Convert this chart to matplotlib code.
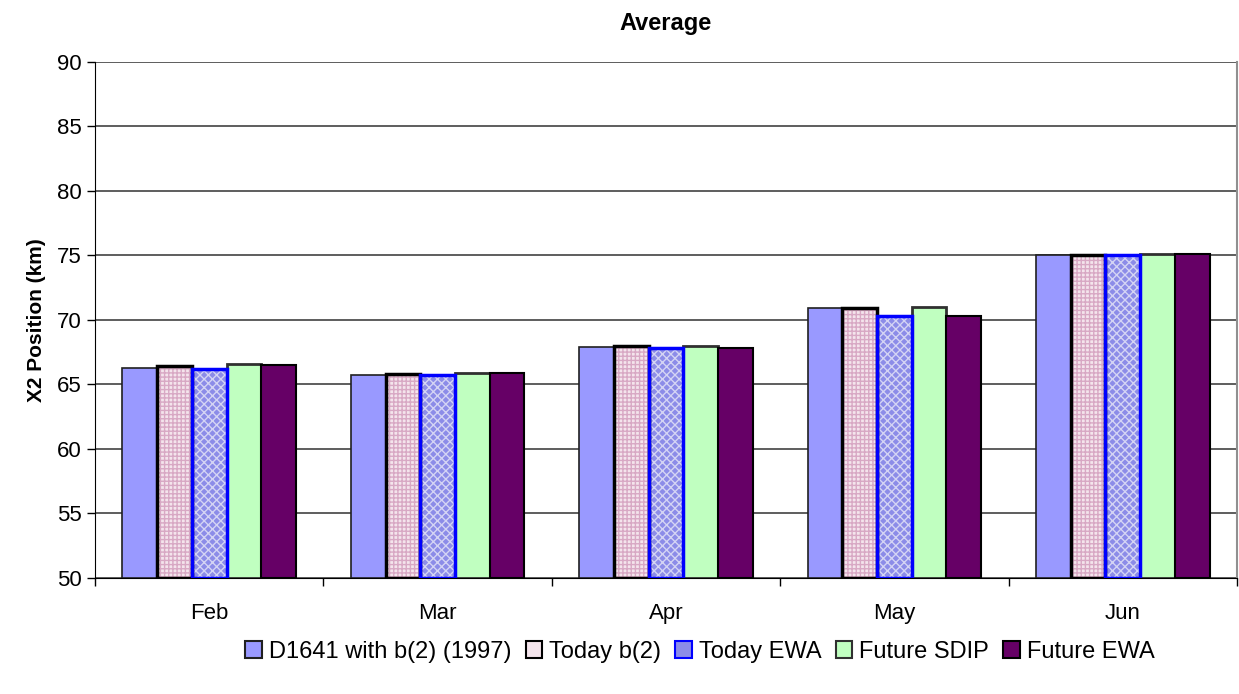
import numpy as np
import matplotlib
matplotlib.use('Agg')
import matplotlib.pyplot as plt
from matplotlib.patches import Patch

plt.rcParams['font.family'] = ['Liberation Sans', 'DejaVu Sans']

months = ['Feb', 'Mar', 'Apr', 'May', 'Jun']
series = ['D1641 with b(2) (1997)', 'Today b(2)', 'Today EWA', 'Future SDIP', 'Future EWA']
d1641 = [66.3, 65.7, 67.9, 70.9, 75.0]
today_b2 = [66.4, 65.8, 68.0, 70.9, 75.0]
today_ewa = [66.2, 65.7, 67.8, 70.3, 75.0]
future_sdip = [66.6, 65.9, 68.0, 71.0, 75.1]
future_ewa = [66.5, 65.9, 67.8, 70.3, 75.1]
values = [d1641, today_b2, today_ewa, future_sdip, future_ewa]

# face, hatch, hatch colour, edge colour, edge width
styles = [
    ('#9999ff', None, None, '#202020', 1.2),
    ('#f4e4ec', '++++', '#d8a8c4', '#000000', 2.5),
    ('#8c8ce8', 'xxxx', '#d4d4f4', '#0000ff', 2.5),
    ('#c0ffc0', None, None, '#303030', 2.0),
    ('#660066', None, None, '#000000', 1.5),
]

fig = plt.figure(figsize=(12.39, 6.94), dpi=100)
ax = fig.add_axes([95 / 1239, 1 - 578 / 694, (1237 - 95) / 1239, (578 - 62) / 694])

x = np.arange(len(months))
w = 0.152
base = 50
for i, (vals, st) in enumerate(zip(values, styles)):
    face, hatch, hcol, ecol, lw = st
    pos = x + (i - 2) * w
    h = np.array(vals) - base
    if hatch:
        ax.bar(pos, h, w, bottom=base, color=face, hatch=hatch, edgecolor=hcol, linewidth=0, zorder=3)
        ax.bar(pos, h, w, bottom=base, fill=False, edgecolor=ecol, linewidth=lw, zorder=4)
    else:
        ax.bar(pos, h, w, bottom=base, color=face, edgecolor=ecol, linewidth=lw, zorder=3)

ax.set_ylim(50, 90)
ax.set_xlim(-0.5, len(months) - 0.5)
ax.set_yticks(range(50, 91, 5))
ax.yaxis.grid(True, color='#505050', linewidth=1.3, zorder=0)
ax.set_xticks(x)
ax.set_xticklabels(months, fontsize=16)
ax.tick_params(axis='x', length=0, pad=18)
ax.set_xticks(np.arange(-0.5, len(months)), minor=True)
ax.tick_params(axis='x', which='minor', length=6, width=1)
ax.tick_params(axis='y', labelsize=16, length=6, width=1)
ax.spines['left'].set_color('#000000')
ax.spines['bottom'].set_color('#000000')
ax.spines['top'].set_visible(False)
ax.spines['right'].set_color('#909090')
ax.spines['right'].set_linewidth(1.5)
ax.set_ylabel('X2 Position (km)', fontsize=15, fontweight='bold', labelpad=8)
ax.set_title('Average', fontsize=17, fontweight='bold', pad=23)

handles = []
for name, st in zip(series, styles):
    face, hatch, hcol, ecol, lw = st
    handles.append(Patch(facecolor=face, edgecolor=ecol, linewidth=1.5, label=name))
fig.legend(handles=handles, loc='center', bbox_to_anchor=(0.565, 1 - 652 / 694), ncol=5,
           frameon=False, fontsize=17, handlelength=0.7, handleheight=0.7,
           handletextpad=0.3, columnspacing=0.6)

fig.savefig('out.png', dpi=100)
